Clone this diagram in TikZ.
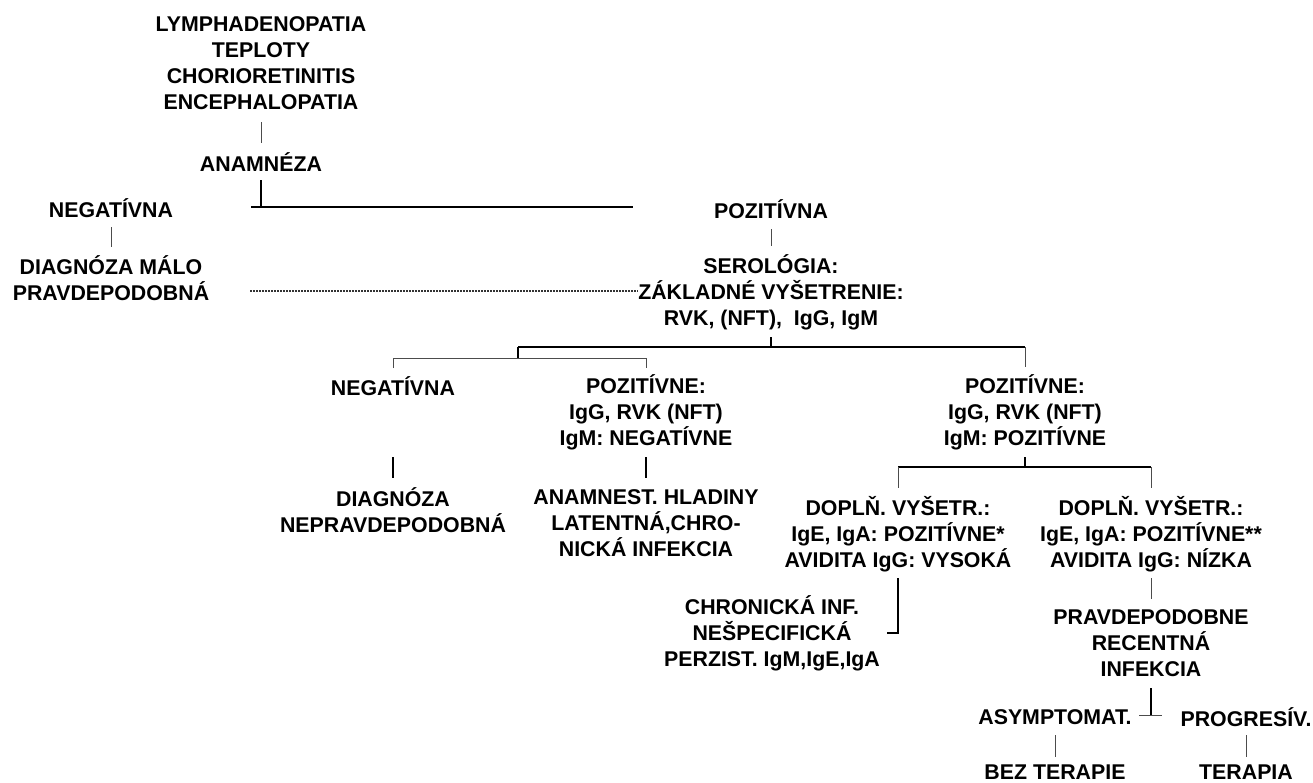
\documentclass[tikz,border=0pt]{standalone}
\usepackage{fontspec}
\setmainfont{Liberation Sans}
\usetikzlibrary{calc}
\begin{document}
\begin{tikzpicture}[x=0.75pt,y=-0.75pt,
  lbl/.style={font=\bfseries\fontsize{16}{19.5}\selectfont, align=center, inner sep=0pt},
  thinln/.style={line width=0.75pt, black!70},
  midln/.style={line width=1.1pt, black},
  thkln/.style={line width=1.5pt, black},
  dotln/.style={line width=0.8pt, black!80, dash pattern=on 1.5pt off 0.75pt}]
\useasboundingbox (0,0) rectangle (1313,782);

% nodes
\node[lbl] (sym) at (261,63.5) {LYMPHADENOPATIA\\TEPLOTY\\CHORIORETINITIS\\ENCEPHALOPATIA};
\node[lbl] (anam) at (261,162) {ANAMNÉZA};
\node[lbl] (neg1) at (111,208) {NEGATÍVNA};
\node[lbl] (dmp) at (111,278) {DIAGNÓZA MÁLO\\PRAVDEPODOBNÁ};
\node[lbl] (poz1) at (771,209) {POZITÍVNA};
\node[lbl] (sero) at (771,292) {SEROLÓGIA:\\ZÁKLADNÉ VYŠETRENIE:\\RVK, (NFT),\ \ IgG, IgM};
\node[lbl] (neg2) at (393,386) {NEGATÍVNA};
\node[lbl] (pozN) at (646,412) {POZITÍVNE:\\IgG, RVK (NFT)\\IgM: NEGATÍVNE};
\node[lbl] (pozP) at (1025,412) {POZITÍVNE:\\IgG, RVK (NFT)\\IgM: POZITÍVNE};
\node[lbl] (dnp) at (393,510) {DIAGNÓZA\\NEPRAVDEPODOBNÁ};
\node[lbl] (anh) at (646,523) {ANAMNEST. HLADINY\\LATENTNÁ,CHRO-\\NICKÁ INFEKCIA};
\node[lbl] (dop1) at (898,534) {DOPLŇ. VYŠETR.:\\IgE, IgA: POZITÍVNE*\\AVIDITA IgG: VYSOKÁ};
\node[lbl] (dop2) at (1151,534) {DOPLŇ. VYŠETR.:\\IgE, IgA: POZITÍVNE**\\AVIDITA IgG: NÍZKA};
\node[lbl] (chr) at (772,633) {CHRONICKÁ INF.\\NEŠPECIFICKÁ\\PERZIST. IgM,IgE,IgA};
\node[lbl] (prav) at (1151,643) {PRAVDEPODOBNE\\RECENTNÁ\\INFEKCIA};
\node[lbl] (asym) at (1055,717) {ASYMPTOMAT.};
\node[lbl] (prog) at (1246,717) {PROGRESÍV.};
\node[lbl] (bez) at (1055,772.5) {BEZ TERAPIE};
\node[lbl] (ter) at (1246,772.5) {TERAPIA};

% junction coordinates
\coordinate (j1a) at (251,207);
\coordinate (j1b) at (633,207);
\coordinate (d1) at (250,291);
\coordinate (d2) at (638,291);
\coordinate (j2) at (771,347);
\coordinate (j2a) at (518,347);
\coordinate (j2b) at (1025,347);
\coordinate (j3) at (518,358);
\coordinate (j3a) at (393,358);
\coordinate (j3b) at (646,358);
\coordinate (j4) at (1025,467);
\coordinate (j4a) at (898,467);
\coordinate (j4b) at (1151,467);
\coordinate (j5) at (887,633);
\coordinate (j6) at (1151,715);
\coordinate (j6a) at (1139,715);
\coordinate (j6b) at (1162,715);

% connectors
\draw[thinln] ($(sym)+(0,58.5)$) -- ($(anam)+(0,-19)$);
\draw[thkln] ($(anam)+(0,18)$) -- (anam |- j1a);
\draw[thkln] (j1a) -- (j1b);
\draw[thinln] ($(neg1)+(0,19)$) -- ($(dmp)+(0,-31)$);
\draw[thinln] ($(poz1)+(0,20)$) -- ($(sero)+(0,-46)$);
\draw[dotln] (d1) -- (d2);

\draw[thkln] ($(sero)+(0,45)$) -- (j2);
\draw[thkln] (j2a) -- (j2b);
\draw[thkln] (j2a) -- (j3);
\draw[thinln] ($(neg2)+(0,-18)$) -- (j3a) -- (j3b) -- ($(pozN)+(0,-44)$);
\draw[thinln] (j2b) -- ($(pozP)+(0,-45)$);

\draw[midln] ($(neg2)+(0,71)$) -- ($(dnp)+(0,-32)$);
\draw[midln] ($(pozN)+(0,45)$) -- ($(anh)+(0,-45)$);

\draw[thkln] ($(pozP)+(0,45)$) -- (j4);
\draw[thkln] (j4a) -- (j4b);
\draw[thinln] (j4a) -- ($(dop1)+(0,-46)$);
\draw[thinln] (j4b) -- ($(dop2)+(0,-46)$);

\draw[midln] ($(dop1)+(0,44)$) -- (dop1 |- j5) -- (j5);
\draw[thinln] ($(dop2)+(0,44)$) -- ($(prav)+(0,-44)$);

\draw[midln] ($(prav)+(0,45)$) -- (j6);
\draw[thinln] (j6a) -- (j6b);
\draw[thinln] ($(asym)+(0,18)$) -- ($(bez)+(0,-15.5)$);
\draw[thinln] ($(prog)+(0,18)$) -- ($(ter)+(0,-15.5)$);
\end{tikzpicture}
\end{document}
